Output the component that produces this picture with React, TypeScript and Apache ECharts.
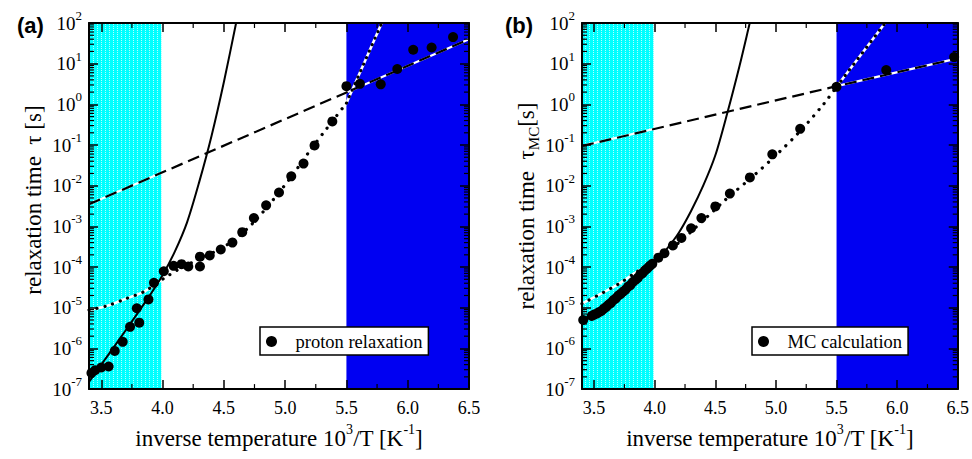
import React, { useEffect, useRef } from 'react';
import * as echarts from 'echarts';

const SERIF = 'Liberation Serif';
const SANS = 'Liberation Sans';

// axis ranges shared by both panels
const X_RANGE: [number, number] = [3.4, 6.5];
const Y_RANGE: [number, number] = [1e-7, 1e2];

// temperature regions (inverse temperature, 10^3/T)
const cyanBand: [number, number] = [3.4, 3.99];
const blueBand: [number, number] = [5.5, 6.5];

// minor tick positions
const xMinorTicks = [3.75, 4.25, 4.75, 5.25, 5.75, 6.25];
const yMinorMantissas = [2, 3, 4, 5, 6, 7, 8, 9];
const yDecades = [-7, -6, -5, -4, -3, -2, -1, 0, 1];

// ---- panel (a): proton relaxation ----
const protonPoints: [number, number][] = [
  [3.42, 2.5e-7], [3.45, 2.9e-7], [3.5, 3.4e-7], [3.56, 3.6e-7], [3.61, 8.7e-7],
  [3.675, 1.45e-6], [3.735, 3.4e-6], [3.81, 4.3e-6], [3.79, 9.7e-6], [3.885, 1.6e-5],
  [3.93, 4.1e-5], [4.01, 7.9e-5], [4.09, 1.07e-4], [4.155, 1.18e-4], [4.21, 1.03e-4],
  [4.305, 1.03e-4], [4.305, 1.8e-4], [4.385, 1.93e-4], [4.475, 2.7e-4], [4.57, 4.0e-4],
  [4.65, 7.2e-4], [4.745, 1.6e-3], [4.845, 3.3e-3], [4.95, 6.8e-3], [5.05, 1.7e-2],
  [5.15, 3.5e-2], [5.24, 9.8e-2], [5.385, 0.38], [5.5, 2.8], [5.61, 3.2],
  [5.78, 3.1], [5.915, 7.4], [6.045, 22], [6.195, 25], [6.37, 45],
];
const protonSolidFit: [number, number][] = [
  [3.4, 1.5e-7], [3.5, 4.0e-7], [3.6, 1.05e-6], [3.7, 2.8e-6], [3.8, 7.6e-6],
  [3.9, 2.1e-5], [4.0, 6.3e-5], [4.1, 2.4e-4], [4.2, 1.26e-3], [4.3, 1.26e-2],
  [4.4, 0.17], [4.5, 3.5], [4.6, 100], [4.62, 200],
];
const protonDashedFit: [number, number][] = [[3.4, 3.5e-3], [6.5, 40]];
const protonDottedFit: [number, number][] = [
  [3.4, 8.8e-6], [3.55, 1.12e-5], [3.7, 1.66e-5], [3.85, 2.5e-5], [4.0, 5.0e-5],
  [4.15, 9.5e-5], [4.3, 1.58e-4], [4.45, 2.6e-4], [4.6, 5.0e-4], [4.75, 1.32e-3],
  [4.9, 4.4e-3], [5.05, 1.66e-2], [5.2, 7.1e-2], [5.35, 0.28], [5.5, 1.07],
];
const protonDottedSteep: [number, number][] = [[5.5, 1.07], [5.8, 120]];

// ---- panel (b): MC calculation ----
const mcPoints: [number, number][] = [
  [3.41, 5.0e-6], [3.48, 6.3e-6], [3.5, 6.8e-6], [3.52, 7.1e-6], [3.54, 7.8e-6],
  [3.56, 8.3e-6], [3.58, 9.5e-6], [3.6, 1.05e-5], [3.62, 1.2e-5], [3.64, 1.32e-5],
  [3.66, 1.55e-5], [3.68, 1.7e-5], [3.7, 2.0e-5], [3.72, 2.2e-5], [3.74, 2.5e-5],
  [3.76, 2.8e-5], [3.78, 3.3e-5], [3.8, 3.6e-5], [3.82, 4.3e-5], [3.84, 4.8e-5],
  [3.86, 5.4e-5], [3.88, 6.5e-5], [3.9, 7.1e-5], [3.92, 8.3e-5], [3.94, 9.3e-5],
  [3.96, 1.07e-4], [3.98, 1.2e-4], [4.03, 1.7e-4], [4.08, 2.2e-4], [4.15, 3.4e-4],
  [4.22, 5.2e-4], [4.3, 9.0e-4], [4.385, 1.6e-3], [4.5, 3.1e-3], [4.62, 6.4e-3],
  [4.785, 1.6e-2], [4.97, 5.9e-2], [5.2, 0.25], [5.5, 2.7], [5.91, 7.0], [6.47, 14.5],
];
const mcSolidFit: [number, number][] = [
  [3.4, 4.5e-6], [3.6, 1.1e-5], [3.8, 3.5e-5], [4.0, 1.3e-4], [4.1, 2.8e-4],
  [4.2, 7.1e-4], [4.3, 2.4e-3], [4.4, 1.0e-2], [4.5, 5.6e-2], [4.6, 0.63],
  [4.7, 8.9], [4.78, 89], [4.8, 160],
];
const mcDashedFit: [number, number][] = [[3.4, 0.095], [5.5, 2.8], [6.5, 13.5]];
const mcDottedFit: [number, number][] = [
  [3.4, 1.26e-5], [3.7, 3.8e-5], [3.85, 7.6e-5], [4.0, 1.4e-4], [4.2, 4.0e-4],
  [4.4, 1.4e-3], [4.6, 5.0e-3], [4.8, 1.6e-2], [5.0, 5.6e-2], [5.2, 0.22],
  [5.4, 1.07], [5.5, 2.7],
];
const mcDottedSteep: [number, number][] = [[5.5, 2.7], [5.93, 130]];

const yMinorTicks: number[] = [];
yDecades.forEach((d) => yMinorMantissas.forEach((m) => yMinorTicks.push(Number((m * Math.pow(10, d)).toPrecision(3)))));

function makeCyanFill() {
  const c = document.createElement('canvas');
  c.width = 4;
  c.height = 4;
  const ctx = c.getContext('2d')!;
  ctx.fillStyle = '#00ffff';
  ctx.fillRect(0, 0, 4, 4);
  ctx.fillStyle = '#b4ffff';
  ctx.fillRect(1, 0, 1, 1);
  ctx.fillRect(1, 2, 1, 1);
  return { image: c, repeat: 'repeat', imageWidth: 4, imageHeight: 4 } as any;
}

type Panel = {
  name: string;
  points: [number, number][];
  solid: [number, number][];
  dashed: [number, number][];
  dotted: [number, number][];
  steep: [number, number][];
  symbolSize: number;
};

function panelSeries(i: number, p: Panel, cyanFill: any): any[] {
  const ax = { xAxisIndex: i * 2, yAxisIndex: i * 2 };
  const base = { ...ax, type: 'line', showSymbol: false, silent: true, symbol: 'none' };
  const tickStyle = { stroke: '#000', lineWidth: 1.2 };
  return [
    {
      ...base,
      data: [],
      z: 1,
      markArea: {
        silent: true,
        label: { show: false },
        data: [
          [
            { xAxis: cyanBand[0], yAxis: Y_RANGE[0], itemStyle: { color: cyanFill, opacity: 1 } },
            { xAxis: cyanBand[1], yAxis: Y_RANGE[1] },
          ],
          [
            { xAxis: blueBand[0], yAxis: Y_RANGE[0], itemStyle: { color: '#0000f2', opacity: 1 } },
            { xAxis: blueBand[1], yAxis: Y_RANGE[1] },
          ],
        ],
      },
    },
    // white under-strokes for the dashed and dotted fits
    { ...base, data: p.dashed, z: 2, lineStyle: { color: '#fff', width: 2.2 } },
    { ...base, data: p.dotted, z: 2, smooth: 0.3, lineStyle: { color: '#fff', width: 2.6 } },
    { ...base, data: p.steep, z: 2, lineStyle: { color: '#fff', width: 2.6 } },
    // black fits
    { ...base, data: p.solid, z: 3, smooth: 0.3, lineStyle: { color: '#000', width: 2 } },
    { ...base, data: p.dashed, z: 3, lineStyle: { color: '#000', width: 2.2, type: [12, 6] } },
    { ...base, data: p.dotted, z: 3, smooth: 0.3, lineStyle: { color: '#000', width: 3.2, type: [0.1, 8], cap: 'round' } },
    { ...base, data: p.steep, z: 3, lineStyle: { color: '#000', width: 3.2, type: [0.1, 7], cap: 'round' } },
    {
      ...ax,
      type: 'scatter',
      name: p.name,
      data: p.points,
      symbol: 'circle',
      symbolSize: p.symbolSize,
      itemStyle: { color: '#000', opacity: 1 },
      silent: true,
      z: 4,
    },
    {
      ...ax,
      type: 'custom',
      silent: true,
      z: 11,
      clip: false,
      data: yMinorTicks.map((v) => [X_RANGE[0], v]),
      renderItem: (params: any, api: any) => {
        const cs = params.coordSys;
        const y = api.coord([X_RANGE[0], api.value(1)])[1];
        return {
          type: 'group',
          children: [
            { type: 'line', shape: { x1: cs.x, y1: y, x2: cs.x + 5, y2: y }, style: tickStyle },
            { type: 'line', shape: { x1: cs.x + cs.width - 5, y1: y, x2: cs.x + cs.width, y2: y }, style: tickStyle },
          ],
        };
      },
    },
    {
      ...ax,
      type: 'custom',
      silent: true,
      z: 11,
      clip: false,
      data: xMinorTicks.map((v) => [v, Y_RANGE[0]]),
      renderItem: (params: any, api: any) => {
        const cs = params.coordSys;
        const x = api.coord([api.value(0), Y_RANGE[0]])[0];
        return {
          type: 'group',
          children: [
            { type: 'line', shape: { x1: x, y1: cs.y + cs.height - 5, x2: x, y2: cs.y + cs.height }, style: tickStyle },
            { type: 'line', shape: { x1: x, y1: cs.y, x2: x, y2: cs.y + 5 }, style: tickStyle },
          ],
        };
      },
    },
  ];
}

const axisLine = { show: true, onZero: false, lineStyle: { color: '#000', width: 2 } };
const majorTick = { show: true, inside: true, length: 9, lineStyle: { color: '#000', width: 1.5 } };

function xAxes(grid: number): any[] {
  return [
    {
      type: 'value', gridIndex: grid, position: 'bottom', min: X_RANGE[0], max: X_RANGE[1], z: 10,
      axisLine, axisTick: majorTick, splitLine: { show: false },
      axisLabel: {
        showMinLabel: false, margin: 10, color: '#000', fontFamily: SERIF, fontSize: 18,
        formatter: (v: number) => v.toFixed(1),
      },
      name: 'inverse temperature 10{sup|3}/T [K{sup|-1}]',
      nameLocation: 'middle',
      nameGap: 26,
      nameTextStyle: {
        color: '#000', fontFamily: SERIF, fontSize: 23, lineHeight: 32,
        rich: { sup: { color: '#000', fontFamily: SERIF, fontSize: 14, lineHeight: 10, verticalAlign: 'top' } },
      },
    },
    {
      type: 'value', gridIndex: grid, position: 'top', min: X_RANGE[0], max: X_RANGE[1], z: 10,
      axisLine, axisTick: majorTick, splitLine: { show: false }, axisLabel: { show: false },
    },
  ];
}

function yAxes(grid: number, title: string, shift: number): any[] {
  return [
    {
      type: 'log', logBase: 10, gridIndex: grid, position: 'left', min: Y_RANGE[0], max: Y_RANGE[1],
      splitNumber: 9, z: 10, axisLine, axisTick: majorTick, splitLine: { show: false },
      axisLabel: {
        margin: 7,
        fontFamily: SERIF,
        formatter: (v: number) => `{b|10}{s|${Math.round(Math.log10(v))}}`,
        rich: {
          b: { color: '#000', fontFamily: SERIF, fontSize: 19, lineHeight: 28 },
          s: { color: '#000', fontFamily: SERIF, fontSize: 13, lineHeight: 12, verticalAlign: 'top' },
        },
      },
      name: title,
      nameLocation: 'middle',
      nameGap: 40,
      nameRotate: 90,
      nameTextStyle: {
        color: '#000', fontFamily: SERIF, fontSize: 23, lineHeight: 30,
        padding: [0, 0, 0, shift],
        rich: { sub: { color: '#000', fontFamily: SERIF, fontSize: 15, lineHeight: 14, verticalAlign: 'bottom' } },
      },
    },
    {
      type: 'log', logBase: 10, gridIndex: grid, position: 'right', min: Y_RANGE[0], max: Y_RANGE[1],
      splitNumber: 9, z: 10, axisLine, axisTick: majorTick, splitLine: { show: false }, axisLabel: { show: false },
    },
  ];
}

function legendBox(left: number, name: string): any {
  return {
    data: [{ name, icon: 'circle', itemStyle: { color: '#000', opacity: 1 } }],
    left,
    top: 327,
    orient: 'horizontal',
    selectedMode: false,
    backgroundColor: '#fff',
    borderColor: '#000',
    borderWidth: 1.5,
    borderRadius: 0,
    padding: [5, 6, 4, 6],
    itemWidth: 22,
    itemHeight: 11,
    z: 20,
    textStyle: { color: '#000', fontFamily: SERIF, fontSize: 18.5, padding: [0, 0, 0, 8] },
  };
}

export default function App() {
  const ref = useRef<HTMLDivElement>(null);

  useEffect(() => {
    if (!ref.current) return;
    const chart = echarts.init(ref.current, undefined, { renderer: 'svg' });
    const cyanFill = makeCyanFill();

    const panelA: Panel = {
      name: 'proton relaxation', points: protonPoints, solid: protonSolidFit,
      dashed: protonDashedFit, dotted: protonDottedFit, steep: protonDottedSteep, symbolSize: 10,
    };
    const panelB: Panel = {
      name: 'MC calculation', points: mcPoints, solid: mcSolidFit,
      dashed: mcDashedFit, dotted: mcDottedFit, steep: mcDottedSteep, symbolSize: 10,
    };

    chart.setOption({
      animation: false,
      backgroundColor: '#fff',
      textStyle: { fontFamily: SERIF },
      title: [
        { text: '(a)', left: 12, top: 9, textStyle: { color: '#000', fontFamily: SANS, fontWeight: 'bold', fontSize: 22 } },
        { text: '(b)', left: 500, top: 9, textStyle: { color: '#000', fontFamily: SANS, fontWeight: 'bold', fontSize: 22 } },
      ],
      grid: [
        { left: 89, top: 23, width: 380, height: 380, containLabel: false },
        { left: 582, top: 23, width: 378, height: 380, containLabel: false },
      ],
      legend: [legendBox(260, panelA.name), legendBox(752, panelB.name)],
      xAxis: [...xAxes(0), ...xAxes(1)],
      yAxis: [
        ...yAxes(0, 'relaxation time  \u03c4 [s]', 12),
        ...yAxes(1, 'relaxation time  \u03c4{sub|MC}[s]', 0),
      ],
      series: [...panelSeries(0, panelA, cyanFill), ...panelSeries(1, panelB, cyanFill)],
    });

    return () => chart.dispose();
  }, []);

  return (
    <div
      ref={ref}
      style={{ position: 'fixed', left: 0, top: 0, width: 972, height: 459, background: '#fff' }}
    />
  );
}
